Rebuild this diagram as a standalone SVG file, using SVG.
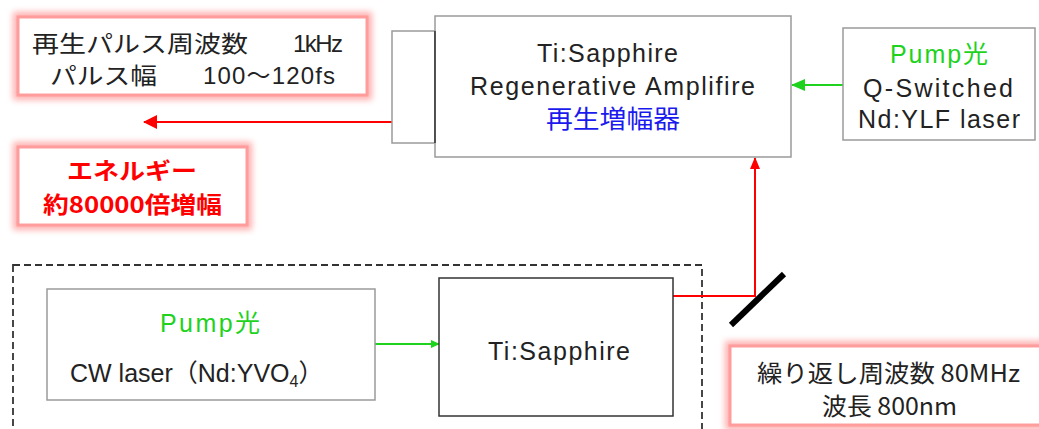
<svg xmlns="http://www.w3.org/2000/svg" width="1039" height="429" viewBox="0 0 1039 429">
  <defs>
    <style>
      .t { font-family: "Liberation Sans", "Noto Sans CJK JP", sans-serif; fill: #222; }
      .jp { font-family: "Noto Sans CJK JP", "Liberation Sans", sans-serif; fill: #222; }
      .green { fill: #1ed21e; }
      .blue { fill: #1a1aee; }
      .redb { fill: #ff0000; font-weight: bold; }
      .box { fill: #fff; stroke: #9a9a9a; stroke-width: 1.5; }
      .boxd { fill: #fff; stroke: #333; stroke-width: 1.5; }
      .glow { fill: none; stroke: #ff7a7a; stroke-width: 10; opacity: 0.6; filter: url(#soft); }
      .note { fill: #fff; stroke: #ff9c9c; stroke-width: 3; }
      .red { stroke: #ff0000; stroke-width: 2; fill: none; }
      .grn { stroke: #1ed21e; stroke-width: 2; fill: none; }
    </style>
    <filter id="soft" x="-10%" y="-30%" width="120%" height="160%">
      <feGaussianBlur stdDeviation="3"/>
    </filter>
    <marker id="arrRed" viewBox="0 0 14 14" refX="13" refY="7" markerWidth="14" markerHeight="14" markerUnits="userSpaceOnUse" orient="auto">
      <path d="M0,0 L14,7 L0,14 Z" fill="#ff0000"/>
    </marker>
    <marker id="arrRedS" viewBox="0 0 12 10" refX="11" refY="5" markerWidth="12" markerHeight="10" markerUnits="userSpaceOnUse" orient="auto">
      <path d="M0,0 L12,5 L0,10 Z" fill="#ff0000"/>
    </marker>
    <marker id="arrGrn" viewBox="0 0 14 12" refX="13" refY="6" markerWidth="14" markerHeight="12" markerUnits="userSpaceOnUse" orient="auto">
      <path d="M0,0 L14,6 L0,12 Z" fill="#1ed21e"/>
    </marker>
    <marker id="arrGrnS" viewBox="0 0 9 8" refX="8" refY="4" markerWidth="9" markerHeight="8" markerUnits="userSpaceOnUse" orient="auto">
      <path d="M0,0 L9,4 L0,8 Z" fill="#1ed21e"/>
    </marker>
  </defs>

  <rect width="1039" height="429" fill="#fff"/>

  <!-- oscillator enclosure -->
  <rect id="oscillator-frame" x="13" y="265" width="689" height="200" fill="none" stroke="#333" stroke-width="1.8" stroke-dasharray="7,4"/>

  <!-- beams and pump paths -->
  <g id="connectors">
    <line class="red" x1="392" y1="122" x2="144" y2="122" marker-end="url(#arrRed)"/>
    <polyline class="red" points="673,296 755,296 755,158" marker-end="url(#arrRedS)"/>
    <line class="grn" x1="843" y1="85" x2="792" y2="85" marker-end="url(#arrGrn)"/>
    <line class="grn" x1="375" y1="344" x2="439" y2="344" marker-end="url(#arrGrnS)"/>
  </g>

  <!-- folding mirror -->
  <g id="mirror">
    <line x1="731" y1="325" x2="784" y2="274" stroke="#000" stroke-width="6"/>
  </g>

  <!-- output spec note -->
  <g id="output-spec">
    <rect class="glow" x="18" y="17" width="349" height="78"/>
    <rect class="note" x="18" y="17" width="349" height="78"/>
    <text class="jp" x="32" y="52" font-size="23" textLength="216" lengthAdjust="spacingAndGlyphs">再生パルス周波数</text>
    <text class="t" x="293" y="52" font-size="24" textLength="50">1kHz</text>
    <text class="jp" x="50" y="84" font-size="23" textLength="107" lengthAdjust="spacingAndGlyphs">パルス幅</text>
    <text class="t" x="203" y="84" font-size="24" textLength="132">100～120fs</text>
  </g>

  <!-- gain note -->
  <g id="gain-note">
    <rect class="glow" x="18" y="147" width="229" height="78"/>
    <rect class="note" x="18" y="147" width="229" height="78"/>
    <text class="jp redb" x="67" y="179" font-size="23" textLength="130" lengthAdjust="spacingAndGlyphs">エネルギー</text>
    <text class="jp redb" x="43" y="213" font-size="23" textLength="179" lengthAdjust="spacingAndGlyphs">約80000倍増幅</text>
  </g>

  <!-- regenerative amplifier -->
  <g id="regen-amplifier">
    <rect class="box" x="392" y="31" width="43" height="112"/>
    <rect class="box" x="435" y="16" width="356" height="141"/>
    <line x1="435" y1="31" x2="435" y2="143" stroke="#333" stroke-width="1.5"/>
    <text class="t" x="537" y="62" font-size="25" textLength="141">Ti:Sapphire</text>
    <text class="t" x="470" y="95" font-size="25" textLength="285">Regenerative Amplifire</text>
    <text class="jp blue" x="546" y="128" font-size="25" textLength="134" lengthAdjust="spacingAndGlyphs">再生増幅器</text>
  </g>

  <!-- Q-switched pump -->
  <g id="pump-qswitch">
    <rect class="box" x="843" y="28" width="192" height="112"/>
    <text class="t green" x="890" y="63" font-size="25" textLength="98">Pump<tspan font-family="Noto Sans CJK JP">光</tspan></text>
    <text class="t" x="863" y="97" font-size="25" textLength="150">Q-Switched</text>
    <text class="t" x="858" y="128" font-size="25" textLength="162">Nd:YLF laser</text>
  </g>

  <!-- CW pump -->
  <g id="pump-cw">
    <rect class="box" x="47" y="289" width="328" height="111"/>
    <text class="t green" x="160" y="332" font-size="25" textLength="100">Pump<tspan font-family="Noto Sans CJK JP">光</tspan></text>
    <text class="t" x="70" y="382" font-size="25">CW laser<tspan font-family="Noto Sans CJK JP">（</tspan>Nd:YVO<tspan font-size="16" dy="5">4</tspan><tspan dy="-5" font-family="Noto Sans CJK JP">）</tspan></text>
  </g>

  <!-- oscillator crystal -->
  <g id="oscillator">
    <rect class="boxd" x="439" y="278" width="234" height="138"/>
    <text class="t" x="488" y="360" font-size="25" textLength="142">Ti:Sapphire</text>
  </g>

  <!-- seed spec note -->
  <g id="seed-spec">
    <rect class="glow" x="730" y="346" width="320" height="79"/>
    <rect class="note" x="730" y="346" width="320" height="79"/>
    <text class="jp" x="757" y="382" font-size="24" textLength="263" lengthAdjust="spacingAndGlyphs">繰り返し周波数 80MHz</text>
    <text class="jp" x="822" y="415" font-size="24" textLength="135" lengthAdjust="spacingAndGlyphs">波長 800nm</text>
  </g>
</svg>
